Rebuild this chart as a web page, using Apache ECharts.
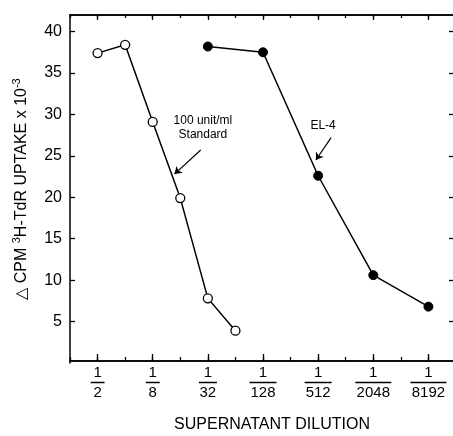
<!DOCTYPE html>
<html>
<head>
<meta charset="utf-8">
<script src="https://cdn.jsdelivr.net/npm/echarts@6/dist/echarts.min.js"></script>
<style>
  html, body { margin: 0; padding: 0; background: #fff; }
  #chart { width: 453px; height: 436px; }
</style>
</head>
<body>
<div id="chart"></div>
<script>
// dilution reciprocals along the x axis (1/1 ... 1/16384)
const dilutions = ['1', '2', '4', '8', '16', '32', '64', '128', '256', '512', '1024', '2048', '4096', '8192', '16384']
const yTicks = [5, 10, 15, 20, 25, 30, 35, 40]

// 100 unit/ml standard (open circles)
const stdDilution = [2, 4, 8, 16, 32, 64]
const stdUptake = [37.4, 38.4, 29.1, 19.9, 7.8, 3.9]

// EL-4 supernatant (filled circles)
const el4Dilution = [32, 128, 512, 2048, 8192]
const el4Uptake = [38.2, 37.5, 22.6, 10.6, 6.8]

const ink = '#000'
const font = '"Liberation Sans", Arial, sans-serif'

const chart = echarts.init(document.getElementById('chart'))

const pts = (xs, ys) => xs.map((d, i) => [Math.log2(d), ys[i]])

// fraction label: 1 over a bar over the denominator
const barWidth = { 1: 14, 2: 18, 3: 27, 4: 36, 5: 44 }
const rich = {
  n: { fontSize: 15, fontFamily: font, color: ink, lineHeight: 15, align: 'center' },
  d: { fontSize: 15, fontFamily: font, color: ink, lineHeight: 15, align: 'center' }
}
Object.keys(barWidth).forEach(k => {
  rich['b' + k] = { width: barWidth[k], height: 1.5, lineHeight: 5, backgroundColor: ink, align: 'center' }
})

const catAxis = (pos, len, major, extra) => Object.assign({
  type: 'category',
  data: dilutions,
  position: pos,
  boundaryGap: false,
  axisLine: { show: true, lineStyle: { color: ink, width: 1.5 } },
  axisTick: {
    show: true, inside: true, length: len,
    interval: major ? (i) => i % 2 === 1 : 0,
    lineStyle: { color: ink, width: 1.3 }
  },
  axisLabel: { show: false },
  splitLine: { show: false }
}, extra || {})

const option = {
  animation: false,
  backgroundColor: '#fff',
  grid: { left: 70, right: -3, top: 15, bottom: 73, outerBoundsMode: 'none', containLabel: false },
  xAxis: [
    { type: 'value', min: 0, max: 14, show: false },
    catAxis('bottom', 7, true, {
      offset: -2,
      axisLabel: {
        show: true,
        interval: (i) => i % 2 === 1,
        margin: 4,
        formatter: (v) => '{n|1}\n{b' + v.length + '|}\n{d|' + v + '}',
        rich: rich
      },
      name: 'SUPERNATANT DILUTION',
      nameLocation: 'middle',
      nameGap: 56,
      nameTextStyle: { fontSize: 16, fontFamily: font, color: ink, padding: [0, 0, 0, 18] }
    }),
    catAxis('bottom', 4, false, { offset: -2 }),
    catAxis('top', 5, true),
    catAxis('top', 3, false)
  ],
  yAxis: [
    {
      type: 'value', min: 0, max: 42,
      axisLine: { show: true, lineStyle: { color: ink, width: 1.5 } },
      axisTick: { show: true, inside: true, length: 5, customValues: yTicks, lineStyle: { color: ink, width: 1.3 } },
      axisLabel: {
        margin: 8, fontSize: 16, fontFamily: font, color: ink,
        customValues: yTicks
      },
      splitLine: { show: false },
      name: '{t|\u25B3 CPM }{s|3}{t|H-TdR UPTAKE x 10}{s|-3}',
      nameLocation: 'middle',
      nameRotate: 90,
      nameGap: 40,
      nameTextStyle: {
        rich: {
          t: { fontSize: 16, fontFamily: font, color: ink, lineHeight: 19, verticalAlign: 'bottom' },
          s: { fontSize: 11, fontFamily: font, color: ink, lineHeight: 19, verticalAlign: 'top' }
        }
      }
    },
    {
      type: 'value', min: 0, max: 42, position: 'right', offset: -3,
      axisLine: { show: false },
      axisTick: { show: true, inside: true, length: 4, customValues: yTicks, lineStyle: { color: ink, width: 1.3 } },
      axisLabel: { show: false },
      splitLine: { show: false }
    }
  ],
  series: [
    {
      name: '100 unit/ml Standard',
      type: 'line',
      data: pts(stdDilution, stdUptake),
      symbol: 'circle',
      symbolSize: 9,
      lineStyle: { color: ink, width: 1.5 },
      itemStyle: { color: '#fff', borderColor: ink, borderWidth: 1.3 },
      z: 3,
      markPoint: {
        symbol: 'circle', symbolSize: 0, silent: true,
        label: { show: true, position: 'inside', color: ink, fontSize: 12, fontFamily: font, lineHeight: 14 },
        data: [{ coord: [4.82, 28.4], value: 0, label: { formatter: '100 unit/ml\nStandard' } }]
      },
      markLine: {
        silent: true, symbol: ['none', 'arrow'], symbolSize: 7,
        label: { show: false },
        lineStyle: { color: ink, width: 1.2, type: 'solid' },
        data: [[{ coord: [4.74, 25.7] }, { coord: [3.79, 22.8] }]]
      }
    },
    {
      name: 'EL-4',
      type: 'line',
      data: pts(el4Dilution, el4Uptake),
      symbol: 'circle',
      symbolSize: 9,
      lineStyle: { color: ink, width: 1.5 },
      itemStyle: { color: ink, borderColor: ink, borderWidth: 1 },
      z: 3,
      markPoint: {
        symbol: 'circle', symbolSize: 0, silent: true,
        label: { show: true, position: 'inside', color: ink, fontSize: 12, fontFamily: font },
        data: [{ coord: [9.18, 28.7], value: 0, label: { formatter: 'EL-4' } }]
      },
      markLine: {
        silent: true, symbol: ['none', 'arrow'], symbolSize: 7,
        label: { show: false },
        lineStyle: { color: ink, width: 1.2, type: 'solid' },
        data: [[{ coord: [9.47, 27.2] }, { coord: [8.92, 24.5] }]]
      }
    }
  ]
}

chart.setOption(option)
</script>
</body>
</html>
